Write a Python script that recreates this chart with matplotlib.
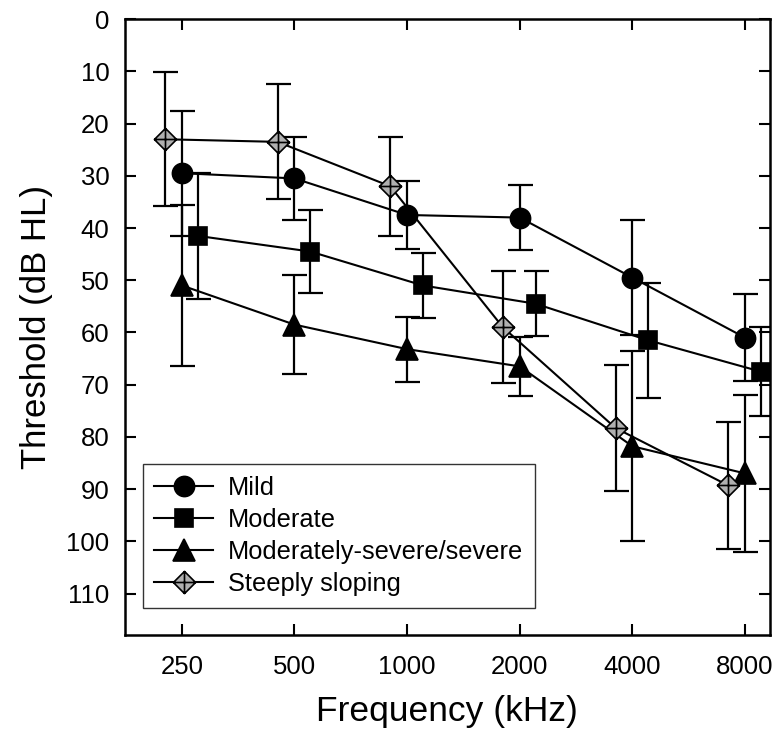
import matplotlib
matplotlib.use("Agg")
import matplotlib.pyplot as plt
from matplotlib.path import Path

plt.rcParams["font.family"] = ["Liberation Sans", "DejaVu Sans"]

# --- data ---
freq_labels = ["250", "500", "1000", "2000", "4000", "8000"]

mild = [29.5, 30.5, 37.5, 38.0, 49.5, 61.0]
mild_sd = [12.0, 8.0, 6.5, 6.3, 11.0, 8.3]

moderate = [41.5, 44.5, 51.0, 54.5, 61.5, 67.5]
moderate_sd = [12.0, 8.0, 6.3, 6.2, 11.0, 8.5]

severe = [51.0, 58.5, 63.2, 66.5, 81.8, 87.0]
severe_sd = [15.5, 9.5, 6.2, 5.7, 18.2, 15.0]

steep = [23.0, 23.5, 32.0, 59.0, 78.3, 89.3]
steep_sd = [12.8, 11.0, 9.5, 10.7, 12.0, 12.1]

y_ticks = list(range(0, 111, 10))

# diamond with a cross inside (steeply sloping marker)
diamond_cross = Path(
    [(0, 1), (1, 0), (0, -1), (-1, 0), (0, 1), (0, 1), (0, -1), (-1, 0), (1, 0)],
    [Path.MOVETO, Path.LINETO, Path.LINETO, Path.LINETO, Path.CLOSEPOLY,
     Path.MOVETO, Path.LINETO, Path.MOVETO, Path.LINETO])

# label, mean, sd, x offset (octaves), marker, size, face
series = [
    ("Mild", mild, mild_sd, 0.0, "o", 14.5, "black"),
    ("Moderate", moderate, moderate_sd, 0.14, "s", 13, "black"),
    ("Moderately-severe/severe", severe, severe_sd, 0.0, "^", 15.5, "black"),
    ("Steeply sloping", steep, steep_sd, -0.15, diamond_cross, 16, "#b0b0b0"),
]

fig = plt.figure(figsize=(7.8, 7.37), dpi=100)
ax = fig.add_axes([0.160, 0.138, 0.827, 0.836])

for label, ys, sd, off, mk, ms, fc in series:
    xs = [i + off for i in range(len(ys))]
    ax.errorbar(xs, ys, yerr=sd, fmt="none", ecolor="black", elinewidth=1.6,
                capsize=9, capthick=1.6, zorder=2)
    ax.plot(xs, ys, "-", color="black", lw=1.5, marker=mk, ms=ms,
            markerfacecolor=fc, markeredgecolor="black", markeredgewidth=1.2,
            label=label, zorder=3)

ax.set_xlim(-0.506, 5.22)
ax.set_ylim(118, 0)
ax.set_xticks(range(len(freq_labels)))
ax.set_xticklabels(freq_labels)
ax.set_yticks(y_ticks)
ax.tick_params(direction="in", length=8, width=1.5, labelsize=18.5,
               top=True, right=True)
ax.tick_params(axis="x", pad=14)
ax.tick_params(axis="y", pad=11)
for sp in ax.spines.values():
    sp.set_linewidth(1.8)

ax.set_xlabel("Frequency (kHz)", fontsize=25.5, labelpad=12)
ax.set_ylabel("Threshold (dB HL)", fontsize=25, labelpad=10)

leg = ax.legend(loc="lower left", bbox_to_anchor=(0.028, 0.045), fontsize=18.3,
                frameon=True, fancybox=False, edgecolor="black",
                handlelength=2.3, borderpad=0.45, labelspacing=0.32,
                handletextpad=0.6, borderaxespad=0)
leg.get_frame().set_linewidth(1.0)

fig.savefig("out.png", dpi=100)
